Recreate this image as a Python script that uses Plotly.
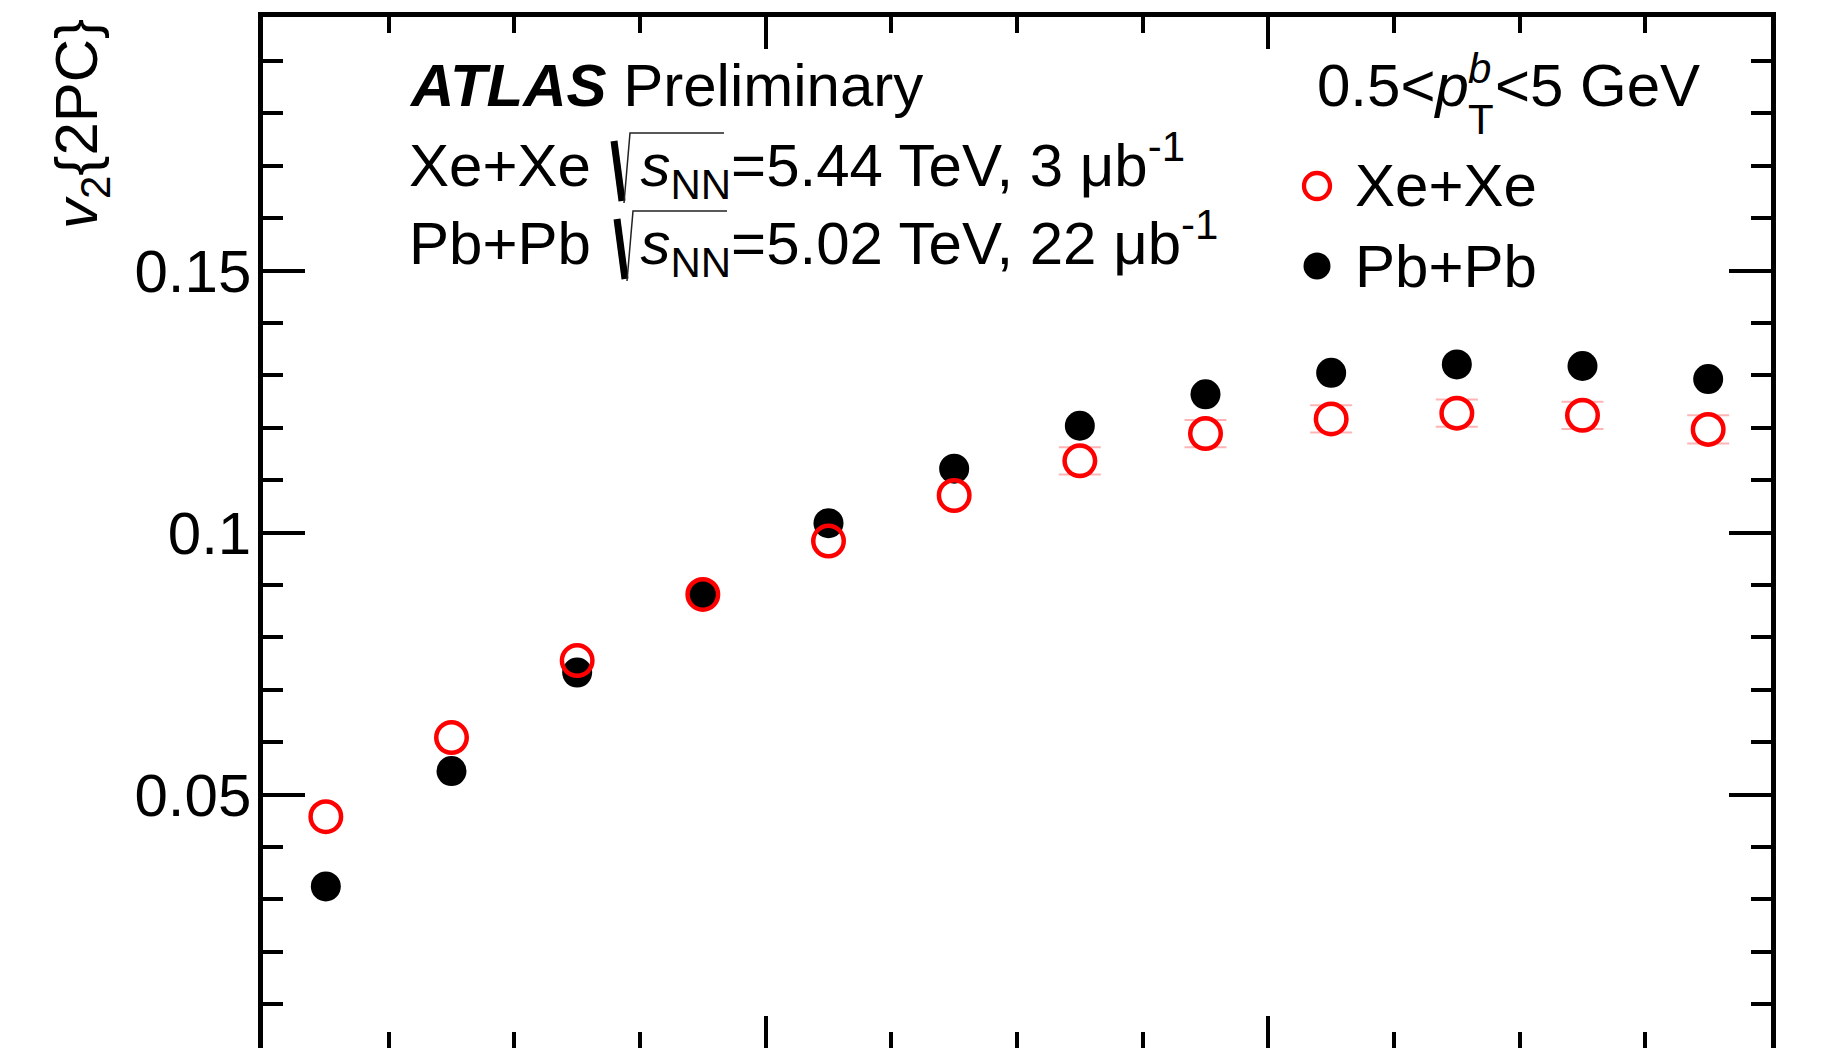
import plotly.graph_objects as go

# v2{2PC} versus centrality (5% wide bins, 0-60%), 0.5 < pT^b < 5 GeV
centrality = [2.5, 7.5, 12.5, 17.5, 22.5, 27.5, 32.5, 37.5, 42.5, 47.5, 52.5, 57.5]
v2_xexe = [0.0458, 0.0609, 0.0756, 0.0882, 0.0984, 0.1071,
           0.1137, 0.1189, 0.1217, 0.1228, 0.1224, 0.1197]
v2_pbpb = [0.0325, 0.0545, 0.0733, 0.0882, 0.1018, 0.1122,
           0.1204, 0.1264, 0.1305, 0.1321, 0.1318, 0.1293]
# systematic uncertainty of Xe+Xe (only visible where it exceeds the marker)
sys_xexe = [None, None, None, None, None, None,
            0.0026, 0.0026, 0.0026, 0.0026, 0.0026, 0.0027]

y_tickvals = [0.05, 0.1, 0.15]
y_ticktext = ["0.05", "0.1", "0.15"]

FONT = "Liberation Sans, Arial, Helvetica, sans-serif"
FS = 60

# frame of the plotting area in page pixels
L, R, T, B = 263, 1771, 17, 1048


def px(x):
    return (x - L) / (R - L)


def py(y):
    return (B - y) / (B - T)


fig = go.Figure()

# systematic boxes: short light-red edges above and below the Xe+Xe points
sys_x, sys_y = [], []
for xc, yc, s in zip(centrality, v2_xexe, sys_xexe):
    if s is None:
        continue
    sys_x += [xc, xc]
    sys_y += [yc + s, yc - s]
fig.add_trace(go.Scatter(
    x=sys_x, y=sys_y, mode="markers", hoverinfo="skip", showlegend=False,
    marker=dict(symbol="line-ew", size=30, line=dict(width=2, color="rgba(255,90,90,0.45)")),
))

fig.add_trace(go.Scatter(
    x=centrality, y=v2_pbpb, mode="markers", name="Pb+Pb",
    marker=dict(symbol="circle", size=30, color="black", line=dict(width=0)),
    showlegend=False, cliponaxis=False,
))
fig.add_trace(go.Scatter(
    x=centrality, y=v2_xexe, mode="markers", name="Xe+Xe",
    marker=dict(symbol="circle-open", size=30.5, color="red",
                line=dict(width=4.5, color="red")),
    showlegend=False, cliponaxis=False,
))


def label(text, x, y, size=FS, xanchor="left", yanchor="middle", angle=0):
    return dict(text=text, x=px(x), y=py(y), xref="paper", yref="paper",
                xanchor=xanchor, yanchor=yanchor, showarrow=False,
                textangle=angle, font=dict(family=FONT, size=size, color="black"))


# the radical sign is drawn as a shape; an invisible glyph keeps its width in the text
ROOT_GAP = '<span style="color:rgba(0,0,0,0)">\u221a</span>'

annotations = [
    label("<b><i>ATLAS</i></b> Preliminary", 407, 86),
    label("Xe+Xe " + ROOT_GAP + "<i>s</i><sub>NN</sub>=5.44 TeV, 3 \u03bcb<sup>-1</sup>", 407, 165),
    label("Pb+Pb " + ROOT_GAP + "<i>s</i><sub>NN</sub>=5.02 TeV, 22 \u03bcb<sup>-1</sup>", 407, 244),
    # 0.5 < p_T^b < 5 GeV with stacked super/subscript
    label("0.5&lt;<i>p</i>", 1315, 86),
    label("<i>b</i>", 1466, 68, size=42),
    label("T", 1466, 120, size=42),
    label("&lt;5 GeV", 1493, 86),
    # legend
    label("Xe+Xe", 1353, 186),
    label("Pb+Pb", 1353, 266),
    # y-axis title at the top of the axis
    label("<i>v</i><sub>2</sub>{2PC}", 81, 17, xanchor="center", yanchor="top", angle=-90),
]


def radical(x, top):
    """Square-root sign: thick down stroke, thin up stroke and the overbar."""
    thick = dict(type="line", xref="paper", yref="paper",
                 x0=px(x), y0=py(top + 8), x1=px(x + 8), y1=py(top + 68),
                 line=dict(color="black", width=7))
    thin = dict(type="path", xref="paper", yref="paper",
                path=(f"M {px(x + 10)},{py(top + 70)} L {px(x + 16)},{py(top)} "
                      f"L {px(x + 110)},{py(top)}"),
                line=dict(color="#222222", width=1.5))
    return [thick, thin]


shapes = [
    # legend keys
    dict(type="circle", xref="paper", yref="paper", xsizemode="pixel", ysizemode="pixel",
         xanchor=px(1317), yanchor=py(186), x0=-13, x1=13, y0=-13, y1=13,
         line=dict(color="red", width=4.3), fillcolor="rgba(0,0,0,0)"),
    dict(type="circle", xref="paper", yref="paper", xsizemode="pixel", ysizemode="pixel",
         xanchor=px(1317), yanchor=py(266), x0=-13.5, x1=13.5, y0=-13.5, y1=13.5,
         line=dict(color="black", width=0), fillcolor="black"),
] + radical(614, 133) + radical(617, 211)

fig.update_layout(
    width=1824, height=1048,
    margin=dict(l=L, r=1824 - R, t=T, b=1048 - B, pad=0),
    paper_bgcolor="white", plot_bgcolor="white",
    annotations=annotations, shapes=shapes,
    font=dict(family=FONT, size=FS, color="black"),
    showlegend=False,
)

fig.update_xaxes(
    range=[0, 60], showline=True, linewidth=4.5, linecolor="black", mirror="allticks",
    ticks="inside", ticklen=32, tickwidth=4, tickcolor="black",
    tick0=0, dtick=20, showticklabels=False, showgrid=False, zeroline=False,
    minor=dict(ticks="inside", ticklen=16, tickwidth=4, tickcolor="black",
               dtick=5, showgrid=False),
)
fig.update_yaxes(
    range=[0.00166, 0.1984], showline=True, linewidth=4.5, linecolor="black", mirror="allticks",
    ticks="inside", ticklen=42, tickwidth=4, tickcolor="black",
    tickmode="array", tickvals=y_tickvals, ticktext=y_ticktext,
    tickfont=dict(family=FONT, size=FS, color="black"), ticklabelstandoff=-5,
    showgrid=False, zeroline=False,
    minor=dict(ticks="inside", ticklen=20, tickwidth=4, tickcolor="black",
               tick0=0, dtick=0.01, showgrid=False),
)

fig.write_html("out.html", config={"displayModeBar": False})
